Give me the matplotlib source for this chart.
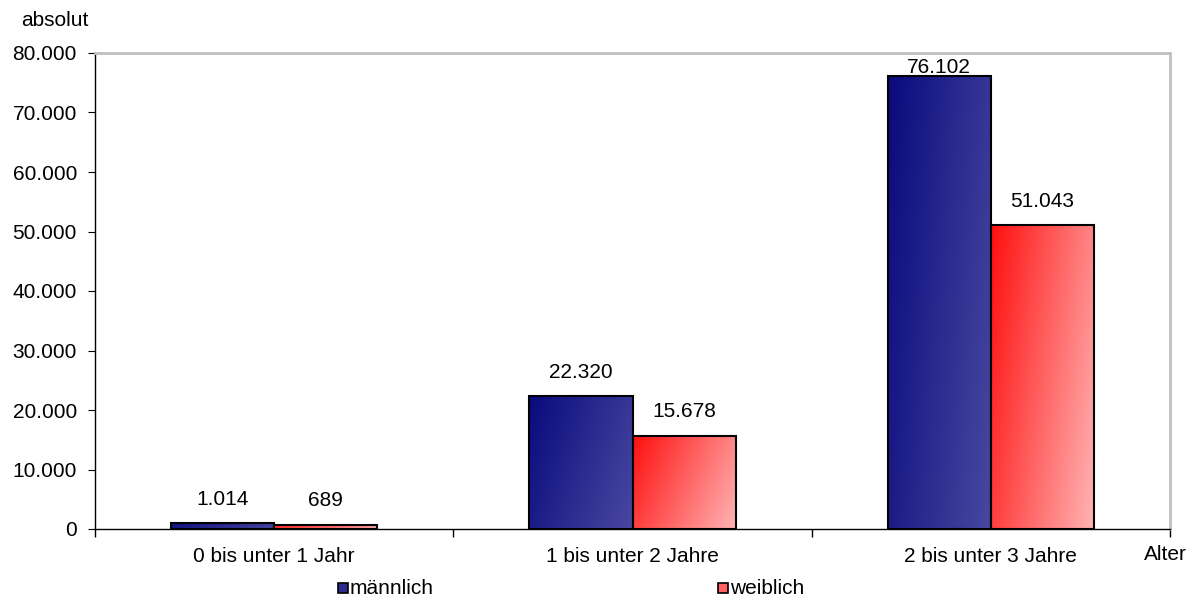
import numpy as np
import matplotlib
matplotlib.use("Agg")
import matplotlib.pyplot as plt
from matplotlib.colors import LinearSegmentedColormap
from matplotlib.ticker import FuncFormatter, MultipleLocator
from matplotlib.patches import Rectangle

categories = ["0 bis unter 1 Jahr", "1 bis unter 2 Jahre", "2 bis unter 3 Jahre"]
series_names = ["männlich", "weiblich"]
maennlich = [1014, 22320, 76102]
weiblich = [689, 15678, 51043]

plt.rcParams['font.family'] = ['Liberation Sans', 'DejaVu Sans']
FS = 15

def de(v):
    return f"{int(v):,}".replace(",", ".")

fig = plt.figure(figsize=(11.92, 5.98), dpi=100)
ax = fig.add_axes([95/1192, 1-529/598, 1075/1192, 476/598])

blue_cmap = LinearSegmentedColormap.from_list("b", ["#0a0a7e", "#4848a0"])
red_cmap = LinearSegmentedColormap.from_list("r", ["#ff1010", "#ffb4b4"])

x = np.arange(len(categories))
w = 0.288
gx, gy = np.meshgrid(np.linspace(0, 1, 60), np.linspace(0, 1, 60))
grad = 0.72 * gx + 0.28 * gy  # dark at top-left (origin upper)

for vals, cmap, off in [(maennlich, blue_cmap, -w/2), (weiblich, red_cmap, w/2)]:
    bars = ax.bar(x + off, vals, width=w, facecolor="none", edgecolor="black",
                  linewidth=1.5, zorder=3)
    for b, v in zip(bars, vals):
        x0 = b.get_x()
        ax.imshow(grad, cmap=cmap, extent=[x0, x0 + w, 0, v], origin="upper",
                  aspect="auto", zorder=2, interpolation="bilinear")
        ylab = min(v + 3100, 76700)
        ax.text(b.get_x() + w/2, ylab, de(v), ha="center", va="baseline",
                fontsize=FS, zorder=4)

ax.set_xlim(-0.5, 2.5)
ax.set_ylim(0, 80000)
ax.yaxis.set_major_locator(MultipleLocator(10000))
ax.yaxis.set_major_formatter(FuncFormatter(lambda v, p: de(v)))
ax.set_xticks([-0.5, 0.5, 1.5, 2.5])
ax.set_xticklabels([])
ax.set_xticks(x, minor=True)
ax.set_xticklabels(categories, minor=True)
ax.tick_params(axis="x", which="minor", length=0, pad=13, labelsize=FS)
ax.tick_params(axis="x", which="major", length=6, direction="out", width=1)
ax.tick_params(axis="y", length=5, direction="out", labelsize=FS, pad=8)

for s in ["top", "right"]:
    ax.spines[s].set_color("#c0c0c0")
    ax.spines[s].set_linewidth(2)
for s in ["left", "bottom"]:
    ax.spines[s].set_color("black")
    ax.spines[s].set_linewidth(1)

fig.text(55/1192, 1-21/598, "absolut", ha="center", va="center", fontsize=FS)
fig.text(1165/1192, 1-555/598, "Alter", ha="center", va="center", fontsize=FS)

# legend
for xm, name, col in [(343, series_names[0], "#2b2b90"), (723, series_names[1], "#ff6060")]:
    fig.patches.append(Rectangle(((xm - 5)/1192, 1-(588+5)/598), 10/1192, 10/598,
                                 transform=fig.transFigure, facecolor=col,
                                 edgecolor="black", linewidth=1.2))
    fig.text((xm + 7)/1192, 1-588/598, name, ha="left", va="center", fontsize=FS)

fig.savefig("out.png", dpi=100)
